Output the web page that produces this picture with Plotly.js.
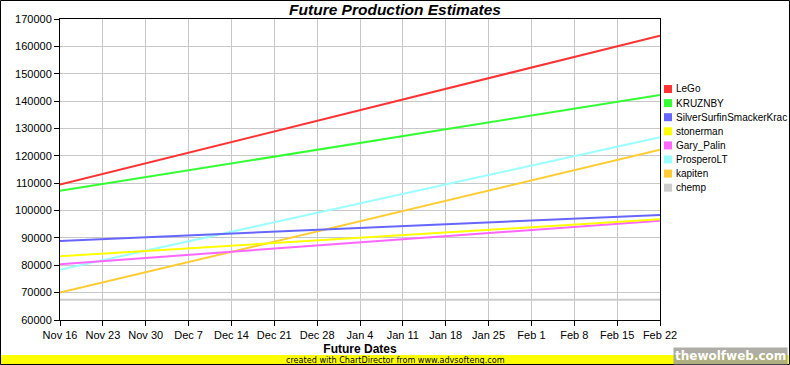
<!DOCTYPE html>
<html>
<head>
<meta charset="utf-8">
<script src="https://cdn.plot.ly/plotly-3.0.1.min.js"></script>
<style>html,body{margin:0;padding:0;background:#fff;}#chart{width:790px;height:365px;}</style>
</head>
<body>
<div id="chart"></div>
<script>
// ---- data ----
const dates = ['2009-11-16', '2010-02-22'];
const names = ['LeGo', 'KRUZNBY', 'SilverSurfinSmackerKrac', 'stonerman', 'Gary_Palin', 'ProsperoLT', 'kapiten', 'chemp'];
const colors = ['#ff3333', '#33ff33', '#6666ff', '#ffff00', '#ff66ff', '#99ffff', '#ffcc33', '#cccccc'];
const lego = [109500, 163900];
const kruznby = [107200, 142200];
const silver = [88900, 98400];
const stonerman = [83300, 96800];
const garyPalin = [80400, 96300];
const prospero = [78400, 126800];
const kapiten = [70000, 122200];
const chemp = [67400, 67400];
const series = [lego, kruznby, silver, stonerman, garyPalin, prospero, kapiten, chemp];

const titleText = 'Future Production Estimates';
const xTitle = 'Future Dates';
const footerText = 'created with ChartDirector from www.advsofteng.com';
const watermark = 'thewolfweb.com';

// ---- layout geometry ----
const W = 790, H = 365;
const M = {l: 60, r: 130, t: 19, b: 45};
const pw = W - M.l - M.r, ph = H - M.t - M.b;
const px = x => (x - M.l) / pw;          // pixel x -> paper x
const py = y => (H - M.b - y) / ph;      // pixel y -> paper y

const traces = [];
// draw in reverse so LeGo is on top
for (let i = series.length - 1; i >= 0; i--) {
  traces.push({
    type: 'scatter', mode: 'lines', name: names[i],
    x: dates, y: series[i],
    line: {color: colors[i], width: 2},
    showlegend: false, hoverinfo: 'x+y+name'
  });
}

const shapes = [
  // yellow footer bar
  {type: 'rect', xref: 'paper', yref: 'paper', x0: px(0), x1: px(W), y0: py(355), y1: py(H),
   fillcolor: '#ffff00', line: {width: 0}, layer: 'below'},
  // outer border
  {type: 'rect', xref: 'paper', yref: 'paper', x0: px(0.5), x1: px(W - 0.5), y0: py(0.5), y1: py(H - 0.5),
   line: {color: '#000', width: 1}, fillcolor: 'rgba(0,0,0,0)'}
];
const annotations = [
  {xref: 'paper', yref: 'paper', x: px(395), y: py(360), text: footerText, showarrow: false,
   xanchor: 'center', yanchor: 'middle', font: {family: 'DejaVu Sans Condensed, DejaVu Sans', size: 9, color: '#000'}},
  {xref: 'paper', yref: 'paper', x: px(788), y: py(356), text: '<b>' + watermark + '</b>', showarrow: false,
   xanchor: 'right', yanchor: 'middle', bgcolor: 'rgba(160,160,150,0.85)', borderpad: 1,
   font: {family: 'Verdana, DejaVu Sans', size: 12, color: '#ffffff'}}
];
// legend (ChartDirector style: small squares + text)
const legTop = 89, legStep = 14.1;
names.forEach((n, i) => {
  const cy = legTop + i * legStep;
  shapes.push({type: 'rect', xref: 'paper', yref: 'paper', x0: px(664), x1: px(672), y0: py(cy - 4), y1: py(cy + 4),
    fillcolor: colors[i], line: {width: 0}});
  annotations.push({xref: 'paper', yref: 'paper', x: px(674), y: py(cy), text: n, showarrow: false,
    xanchor: 'left', yanchor: 'middle', font: {family: 'Liberation Sans, Arial', size: 10, color: '#000'}});
});

const axisCommon = {
  showgrid: true, gridcolor: '#c8c8c8', gridwidth: 1,
  showline: true, linecolor: '#000', linewidth: 1, mirror: true,
  ticks: 'outside', ticklen: 5, tickcolor: '#000', tickwidth: 1,
  zeroline: false, tickfont: {family: 'Liberation Sans, Arial', size: 11, color: '#000'}
};

const layout = {
  width: W, height: H, margin: M,
  paper_bgcolor: '#ffffff', plot_bgcolor: '#ffffff',
  showlegend: false,
  title: {text: '<b><i>' + titleText + '</i></b>', x: 0.5, xref: 'container', xanchor: 'center',
    y: 1 - 9.5 / H, yref: 'container', yanchor: 'middle',
    font: {family: 'Liberation Sans Narrow, Liberation Sans, Arial', size: 15.5, color: '#000'}},
  xaxis: Object.assign({}, axisCommon, {
    type: 'date', range: [dates[0], dates[1]], tick0: dates[0], dtick: 7 * 86400000,
    tickformat: '%b %-d',
    title: {text: '<b>' + xTitle + '</b>', standoff: 4, font: {family: 'Liberation Sans, Arial', size: 12, color: '#000'}}
  }),
  yaxis: Object.assign({}, axisCommon, {
    range: [60000, 170000], dtick: 10000, tickformat: 'd'
  }),
  shapes: shapes,
  annotations: annotations
};

Plotly.newPlot('chart', traces, layout, {displayModeBar: false, staticPlot: true});
</script>
</body>
</html>
